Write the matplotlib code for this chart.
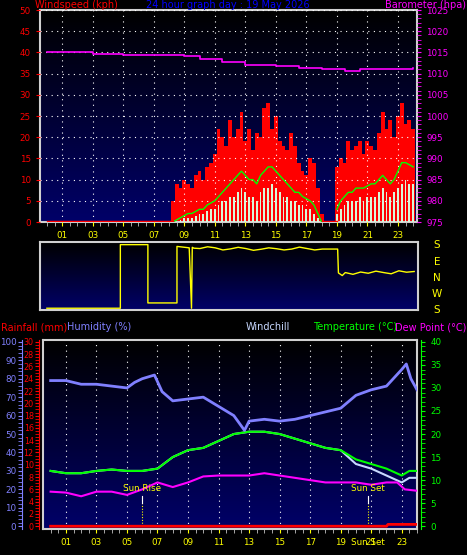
import numpy as np
import matplotlib
matplotlib.use("Agg")
import matplotlib.pyplot as plt
from matplotlib.colors import LinearSegmentedColormap

# ---------------- data ----------------
day_t = [8.25 + 0.25*i for i in range(40)]
day_gust = [5,9,8,10,9,8,11,12,10,13,14,16,22,20,18,24,20,22,26,19,22,17,21,20,27,28,22,25,19,18,17,21,18,14,12,11,15,14,8,2]
day_mean = [0,0.5,1,1.5,2,2,2.5,3,3,4,4.5,5,6,7,8,9,10,11,12,11,10,10,9,11,12,13,13,12,11,10,9,8,7,7,6,5.5,5,4,2,0]
day_lull = [0,0,0.5,1,1,1,1.5,2,2,2.5,3,3,4,5,5,6,6,7,8,7,6,6,5,7,8,8,9,8,7,6,6,5,5,4,4,3,3,2,1,0]
eve_t = [19.0 + 0.25*i for i in range(21)]
eve_gust = [13,15,14,19,17,18,19,16,19,18,17,21,26,22,24,20,25,28,23,24,22]
eve_mean = [3,5,6,7,7,8,8,8,8.5,9,9,10,11,10,9,10,12,14,14,13.5,13]
eve_lull = [2,3,4,5,5,5,6,5,6,6,6,7,8,7,6,7,8,9,10,9,9]

baro_t = [0,2,3,5,7.5,9,10,11.5,13,15,16.5,18,19.5,20.5,22,24]
baro_v = [1015,1015,1014.6,1014.3,1014.5,1014.2,1013.5,1012.8,1012.1,1011.8,1011.3,1011.1,1010.5,1011.0,1011.0,1011.3]

dir_t = [0,4.8,4.8,6.6,6.6,8.5,8.5,9.3,9.45,9.5,9.6,10,10.5,11,11.5,12,12.5,13,13.5,14,14.5,15,15.5,16,16.5,17,17.5,18,19,19.05,19.3,19.5,20,20.5,21,21.5,22,22.5,23,23.5,24]
dir_v = [-180,-180,180,180,-150,-150,170,162,-180,165,160,158,168,162,150,156,165,158,148,154,162,157,150,155,166,158,150,155,155,20,5,22,12,25,18,30,22,15,32,24,28]

hr_t = [0,1,2,3,4,5,5.5,6,6.8,7.3,8,9,10,11,12,12.7,13,14,15,16,17,18,19,20,21,22,23,23.3,23.6,24]
hum_v = [79,79,77,77,76,75,78,80,82,73,68,69,70,65,60,52,57,58,57,58,60,62,64,71,74,76,85,88,80,74]

tmp_t = [0,1,2,3,4,5,6,7,8,9,10,11,12,13,14,15,16,17,18,19,20,21,22,23,23.5,24]
temp_v = [12,11.5,11.5,12,12.3,12,12,12.5,15,16.5,17,18.5,20,20.5,20.5,20,19,18,17,16.5,14.5,13.5,12.5,11,12,12]
chill_v = [12,11.5,11.5,12,12.3,12,12,12.5,15,16.5,17,18.5,20,20.5,20.5,20,19,18,17,16.5,13.5,12.5,11,9.5,10.5,10.5]
dew_t = [0,1,2,3,4,5,6,7,8,9,10,11,12,13,14,15,16,17,18,19,20,21,22,22.7,23.2,24]
dew_v = [7.5,7.3,6.5,7.5,7.5,6.8,8,9.5,8.5,9.5,10.8,11,11,11,11.5,11,10.5,10,9.5,9.5,9.5,9,9.5,9.5,8,7.7]
rain_t = [0,22,22.1,24]
rain_v = [0,0,0.3,0.3]

hour_labels = ["01","03","05","07","09","11","13","15","17","19","21","23"]
hour_pos = [1,3,5,7,9,11,13,15,17,19,21,23]

W, H = 467, 555
fig = plt.figure(figsize=(W/100, H/100), dpi=100, facecolor="black")
FS = 6.3
HFS = 7

def grad(ax):
    g = np.linspace(0, 1, 100).reshape(-1, 1)
    cm = LinearSegmentedColormap.from_list("g", ["#000000", "#000068"])
    ax.imshow(g, extent=[0, 1, 0, 1], transform=ax.transAxes, aspect="auto", cmap=cm, origin="upper", zorder=0)

def frame(ax):
    ax.set_facecolor("black")
    for s in ax.spines.values():
        s.set_color("#d0d0d0"); s.set_linewidth(1.5)

# ---------------- top panel ----------------
ax = fig.add_axes([40/W, 1-222/H, 377/W, 212/H])
frame(ax); grad(ax)
ax.bar(day_t, day_gust, width=0.25, color="#ff0000", zorder=2)
ax.bar(eve_t, eve_gust, width=0.25, color="#ff0000", zorder=2)
ax.bar(day_t, day_lull, width=0.12, color="#d8f8d8", zorder=3)
ax.bar(eve_t, eve_lull, width=0.12, color="#d8f8d8", zorder=3)
ax.plot(day_t, day_mean, color="#00ff00", lw=1, zorder=4)
ax.plot(eve_t, eve_mean, color="#00ff00", lw=1, zorder=4)
ax.plot([0, 8.25], [0.3, 0.3], color="#ff0000", lw=1, zorder=4)
ax.plot([18, 19], [0.3, 0.3], color="#ff0000", lw=1, zorder=4)
ax.set_xlim(-0.45, 24.25); ax.set_ylim(0, 50)
ax.set_yticks(range(0, 51, 5))
ax.tick_params(axis="y", colors="#ff0000", labelsize=FS, length=3)
ax.set_xticks(hour_pos); ax.set_xticklabels(hour_labels)
ax.set_xticks(np.arange(0, 24.1, 0.5), minor=True)
ax.tick_params(axis="x", colors="#ffff00", labelsize=FS, length=3, which="both")
ax.tick_params(axis="x", which="minor", color="#c0c0c0")
ax.grid(True, color="white", linestyle=(0, (1, 4)), lw=0.8, zorder=1)
ax.set_axisbelow(False)
axb = ax.twinx()
axb.set_ylim(975, 1025)
axb.plot(baro_t, baro_v, color="#ff00ff", lw=1.2, drawstyle="steps-post", zorder=5)
axb.set_yticks(range(975, 1026, 5))
axb.set_yticks(range(975, 1026, 1), minor=True)
axb.tick_params(axis="y", colors="#ff00ff", labelsize=FS, length=3, which="both")
for s in axb.spines.values(): s.set_visible(False)
fig.text(35/W, 1-5/H, "Windspeed (kph)", color="#ff0000", fontsize=HFS, va="center")
fig.text(228/W, 1-5/H, "24 hour graph day : 19 May 2026", color="#0000ff", fontsize=HFS, va="center", ha="center")
fig.text(466/W, 1-5/H, "Barometer (hpa)", color="#ff00ff", fontsize=HFS, va="center", ha="right")

# ---------------- direction panel ----------------
axd = fig.add_axes([40/W, 1-310/H, 378/W, 68/H])
frame(axd); grad(axd)
axd.plot(dir_t, dir_v, color="#ffff00", lw=1)
axd.set_xlim(-0.45, 24.25); axd.set_ylim(-190, 195)
axd.set_xticks([]); axd.set_yticks([])
for lab, yy in zip(["S", "E", "N", "W", "S"], [245, 262, 278, 294, 310]):
    fig.text(437/W, 1-yy/H, lab, color="#ffff00", fontsize=HFS+0.5, ha="center", va="center")

# ---------------- bottom panel ----------------
axt = fig.add_axes([43/W, 1-529/H, 374/W, 189/H])
frame(axt); grad(axt)
axt.set_xlim(-0.5, 23.85)
axt.set_ylim(-0.6, 40.4)
axt.grid(True, color="white", linestyle=(0, (1, 4)), lw=0.8, zorder=1)
axt.set_yticks([])
axt.set_xticks(hour_pos); axt.set_xticklabels(hour_labels)
axt.set_xticks(np.arange(0, 24.1, 0.5), minor=True)
axt.tick_params(axis="x", colors="#ffff00", labelsize=FS, length=3, which="both")
axt.tick_params(axis="x", which="minor", color="#c0c0c0")
axt.plot(tmp_t, chill_v, color="#c8d8ff", lw=1.5, zorder=3)
axt.plot(tmp_t, temp_v, color="#00ff00", lw=1.5, zorder=4)
axt.plot(dew_t, dew_v, color="#ff00ff", lw=1.5, zorder=4)
for sx, lab in [(6.0, "Sun Rise"), (20.8, "Sun Set")]:
    axt.plot([sx, sx], [0, 6.5], color="#ffff00", lw=0.8, linestyle=(0, (1, 1.5)), zorder=5)
    axt.plot([sx, sx], [5, 6.5], color="white", lw=0.8, zorder=5)
    axt.text(sx, 7.2, lab, color="#ffff00", fontsize=FS, ha="center", va="bottom", zorder=6)
axt.text(20.8, -0.069, "Sun Set", color="#ffff00", fontsize=FS, ha="center", va="center", transform=axt.get_xaxis_transform())

axr = axt.twinx()
axr.set_ylim(-0.6, 40.4)
axr.set_yticks(range(0, 41, 5)); axr.set_yticks(range(0, 41, 1), minor=True)
axr.tick_params(axis="y", colors="#00ff00", labelsize=FS, length=3, which="both")
for s in axr.spines.values(): s.set_visible(False)
axr.spines["right"].set_visible(True); axr.spines["right"].set_color("#00ff00")
axr.spines["right"].set_position(("axes", 1.012))

axrain = axt.twinx()
axrain.set_ylim(-0.45, 30.3)
axrain.plot(rain_t, rain_v, color="#ff0000", lw=2, zorder=5)
axrain.yaxis.set_ticks_position("left")
axrain.set_yticks(range(0, 31, 2)); axrain.set_yticks(np.arange(0, 30.1, 0.5), minor=True)
axrain.tick_params(axis="y", colors="#ff0000", labelsize=FS-0.5, length=3, pad=1, which="both", left=True, right=False, labelleft=True, labelright=False)
for s in axrain.spines.values(): s.set_visible(False)
axrain.spines["left"].set_visible(True); axrain.spines["left"].set_color("#ff0000")
axrain.spines["left"].set_position(("axes", -0.01))

axh = axt.twinx()
axh.set_ylim(-1.5, 101)
axh.plot(hr_t, hum_v, color="#8080ff", lw=2, zorder=5)
axh.yaxis.set_ticks_position("left")
axh.set_yticks(range(0, 101, 10)); axh.set_yticks(range(0, 101, 2), minor=True)
axh.tick_params(axis="y", colors="#8080ff", labelsize=FS, length=3, pad=1, which="both", left=True, right=False, labelleft=True, labelright=False)
for s in axh.spines.values(): s.set_visible(False)
axh.spines["left"].set_visible(True); axh.spines["left"].set_color("#8080ff")
axh.spines["left"].set_position(("axes", -21/374))

fig.text(1/W, 1-327/H, "Rainfall (mm)", color="#ff0000", fontsize=HFS, va="center")
fig.text(67/W, 1-327/H, "Humidity (%)", color="#8080ff", fontsize=HFS, va="center")
fig.text(246/W, 1-327/H, "Windchill", color="#c8d8ff", fontsize=HFS, va="center")
fig.text(313/W, 1-327/H, "Temperature (°C)", color="#00ff00", fontsize=HFS, va="center")
fig.text(466/W, 1-327/H, "Dew Point (°C)", color="#ff00ff", fontsize=HFS, va="center", ha="right")

fig.savefig("out.png", dpi=100, facecolor="black")
